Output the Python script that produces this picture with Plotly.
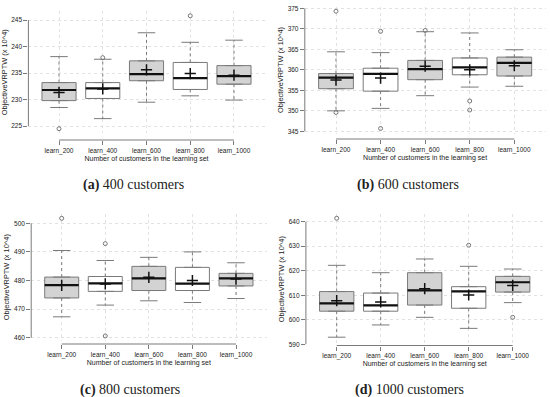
import plotly.graph_objects as go

categories = ["learn_200", "learn_400", "learn_600", "learn_800", "learn_1000"]
positions = [1, 2, 3, 4, 5]

# (a) 400 customers
a_lower = [228.5, 226.4, 229.5, 230.7, 229.9]
a_q1 = [229.8, 230.2, 233.55, 231.9, 232.9]
a_median = [231.8, 232.1, 234.8, 234.05, 234.4]
a_q3 = [233.2, 233.2, 237.3, 237.0, 236.4]
a_upper = [238.1, 237.6, 242.6, 240.8, 241.2]
a_mean = [231.35, 232.0, 235.6, 234.9, 234.6]
a_out_x = [1, 2, 4]
a_out_y = [224.5, 237.9, 245.8]
a_ticks = [225, 230, 235, 240, 245]

# (b) 600 customers
b_lower = [350.0, 350.6, 353.7, 355.8, 356.0]
b_q1 = [355.4, 354.8, 357.6, 358.8, 358.5]
b_median = [358.1, 359.0, 360.2, 360.6, 361.7]
b_q3 = [359.1, 360.4, 362.3, 362.9, 363.1]
b_upper = [364.4, 364.2, 369.3, 369.0, 364.9]
b_mean = [357.5, 358.0, 360.9, 360.0, 361.0]
b_out_x = [1, 1, 2, 2, 3, 4, 4]
b_out_y = [374.3, 349.6, 369.4, 345.7, 369.6, 352.4, 350.2]
b_ticks = [345, 350, 355, 360, 365, 370, 375]

# (c) 800 customers
c_lower = [467.3, 471.4, 472.9, 472.3, 473.7]
c_q1 = [473.9, 476.2, 476.5, 476.5, 478.1]
c_median = [478.4, 479.0, 480.75, 478.9, 480.75]
c_q3 = [481.2, 481.4, 484.95, 484.6, 482.5]
c_upper = [490.5, 487.0, 488.1, 490.0, 486.2]
c_mean = [478.3, 478.8, 481.1, 480.0, 480.5]
c_out_x = [1, 2, 2]
c_out_y = [501.75, 492.9, 460.6]
c_ticks = [460, 470, 480, 490, 500]

# (d) 1000 customers
d_lower = [592.9, 597.9, 601.0, 596.5, 607.0]
d_q1 = [603.5, 603.5, 606.0, 604.7, 611.3]
d_median = [606.7, 605.9, 612.0, 611.6, 615.3]
d_q3 = [611.5, 610.9, 619.2, 613.5, 617.7]
d_upper = [622.2, 619.2, 624.8, 621.8, 620.7]
d_mean = [607.8, 607.3, 612.7, 610.1, 614.0]
d_out_x = [1, 4, 5]
d_out_y = [641.4, 630.4, 601.0]
d_ticks = [590, 600, 610, 620, 630, 640]

captions = ["<b>(a)</b> 400 customers", "<b>(b)</b> 600 customers",
            "<b>(c)</b> 800 customers", "<b>(d)</b> 1000 customers"]

W, H = 550, 397
BOXW = 0.78
CAPW = 0.2
FILL = ["#d3d3d3", "#ffffff", "#d3d3d3", "#ffffff", "#d3d3d3"]
GRAY = "#7a7a7a"
GRID = "#e2e2e2"
FONT = "Liberation Sans"

panels = [
    dict(lower=a_lower, q1=a_q1, med=a_median, q3=a_q3, upper=a_upper, mean=a_mean,
         ox=a_out_x, oy=a_out_y, ticks=a_ticks, yrange=[223.65, 246.65],
         xpx=(28.4, 264.6), ypx=(11.3, 133.2), axpx=140, cap=(133, 185)),
    dict(lower=b_lower, q1=b_q1, med=b_median, q3=b_q3, upper=b_upper, mean=b_mean,
         ox=b_out_x, oy=b_out_y, ticks=b_ticks, yrange=[344.45, 375.45],
         xpx=(304.8, 545.5), ypx=(6.5, 133.6), axpx=139, cap=(408, 185)),
    dict(lower=c_lower, q1=c_q1, med=c_median, q3=c_q3, upper=c_upper, mean=c_mean,
         ox=c_out_x, oy=c_out_y, ticks=c_ticks, yrange=[458.95, 503.4],
         xpx=(31.2, 266.5), ypx=(213.6, 340.7), axpx=344, cap=(130, 390)),
    dict(lower=d_lower, q1=d_q1, med=d_median, q3=d_q3, upper=d_upper, mean=d_mean,
         ox=d_out_x, oy=d_out_y, ticks=d_ticks, yrange=[589.8, 643.34],
         xpx=(305.9, 543.5), ypx=(213.5, 344.8), axpx=345.5, cap=(409, 390)),
]

fig = go.Figure()
shapes = []
annotations = []
layout = {}

for k, p in enumerate(panels):
    n = "" if k == 0 else str(k + 1)
    xa, ya = "x" + n, "y" + n
    # boxes
    for fill in ["#d3d3d3", "#ffffff"]:
        idx = [i for i in range(5) if FILL[i] == fill]
        fig.add_trace(go.Box(
            x=[positions[i] for i in idx],
            q1=[p["q1"][i] for i in idx], median=[p["med"][i] for i in idx],
            q3=[p["q3"][i] for i in idx],
            lowerfence=[p["q1"][i] for i in idx], upperfence=[p["q3"][i] for i in idx],
            fillcolor=fill, line=dict(color=GRAY, width=1), width=BOXW,
            boxpoints=False, hoverinfo="skip", showlegend=False, xaxis=xa, yaxis=ya))
    # whiskers (dotted), caps, medians
    wx, wy, cx, cy, mx, my = [], [], [], [], [], []
    for i, pos in enumerate(positions):
        wx += [pos, pos, None, pos, pos, None]
        wy += [p["q3"][i], p["upper"][i], None, p["q1"][i], p["lower"][i], None]
        cx += [pos - CAPW, pos + CAPW, None, pos - CAPW, pos + CAPW, None]
        cy += [p["upper"][i], p["upper"][i], None, p["lower"][i], p["lower"][i], None]
        mx += [pos - BOXW / 2, pos + BOXW / 2, None]
        my += [p["med"][i], p["med"][i], None]
    fig.add_trace(go.Scatter(x=wx, y=wy, mode="lines", line=dict(color=GRAY, width=1, dash="dot"),
                             hoverinfo="skip", showlegend=False, xaxis=xa, yaxis=ya))
    fig.add_trace(go.Scatter(x=cx, y=cy, mode="lines", line=dict(color=GRAY, width=1),
                             hoverinfo="skip", showlegend=False, xaxis=xa, yaxis=ya))
    fig.add_trace(go.Scatter(x=mx, y=my, mode="lines", line=dict(color="#111111", width=2.2),
                             hoverinfo="skip", showlegend=False, xaxis=xa, yaxis=ya))
    fig.add_trace(go.Scatter(x=positions, y=p["mean"], mode="markers",
                             marker=dict(symbol="cross-thin", size=8, color="#111111",
                                         line=dict(color="#111111", width=1.5)),
                             hoverinfo="skip", showlegend=False, xaxis=xa, yaxis=ya))
    fig.add_trace(go.Scatter(x=p["ox"], y=p["oy"], mode="markers",
                             marker=dict(symbol="circle-open", size=4, color="#777777",
                                         line=dict(color="#777777", width=1)),
                             hoverinfo="skip", showlegend=False, xaxis=xa, yaxis=ya))

    xd = [p["xpx"][0] / W, p["xpx"][1] / W]
    yd = [1 - p["ypx"][1] / H, 1 - p["ypx"][0] / H]
    axpos = 1 - p["axpx"] / H
    layout["xaxis" + n] = dict(
        domain=xd, range=[0.3, 5.7], anchor="free", position=axpos,
        tickmode="array", tickvals=positions, ticktext=categories,
        ticks="outside", ticklen=4, tickcolor=GRAY, tickwidth=1,
        showline=False, zeroline=False,
        showgrid=True, gridcolor=GRID, griddash="dot", gridwidth=1,
        tickfont=dict(family=FONT, size=6.5, color="#222222"),
        title=dict(text="Number of customers in the learning set",
                   font=dict(family=FONT, size=7, color="#222222"), standoff=1),
        automargin=False, fixedrange=True)
    layout["yaxis" + n] = dict(
        domain=yd, range=p["yrange"], anchor=xa,
        tickmode="array", tickvals=p["ticks"],
        ticks="outside", ticklen=4, tickcolor=GRAY, tickwidth=1,
        showline=False, zeroline=False,
        showgrid=True, gridcolor=GRID, griddash="dot", gridwidth=1,
        tickfont=dict(family=FONT, size=6.5, color="#222222"),
        title=dict(text="ObjectiveVRPTW (x 10^4)",
                   font=dict(family=FONT, size=7.4, color="#222222"), standoff=3),
        automargin=False, fixedrange=True)
    # R-style axis lines spanning the tick range
    shapes.append(dict(type="line", xref=xa + " domain", yref=ya, x0=0, x1=0,
                       y0=p["ticks"][0], y1=p["ticks"][-1], line=dict(color=GRAY, width=1)))
    shapes.append(dict(type="line", xref=xa, yref="paper", x0=positions[0], x1=positions[-1],
                       y0=axpos, y1=axpos, line=dict(color=GRAY, width=1)))
    annotations.append(dict(text=captions[k], xref="paper", yref="paper",
                            x=p["cap"][0] / W, y=1 - p["cap"][1] / H, showarrow=False,
                            xanchor="center", yanchor="middle",
                            font=dict(family="Liberation Serif", size=14, color="#222222")))

fig.update_layout(
    width=W, height=H, margin=dict(l=0, r=0, t=0, b=0),
    paper_bgcolor="white", plot_bgcolor="white", template="none",
    boxmode="overlay", showlegend=False,
    shapes=shapes, annotations=annotations, **layout)

fig.write_html("out.html", config={"displayModeBar": False},
               post_script="document.body.style.margin='0';")
